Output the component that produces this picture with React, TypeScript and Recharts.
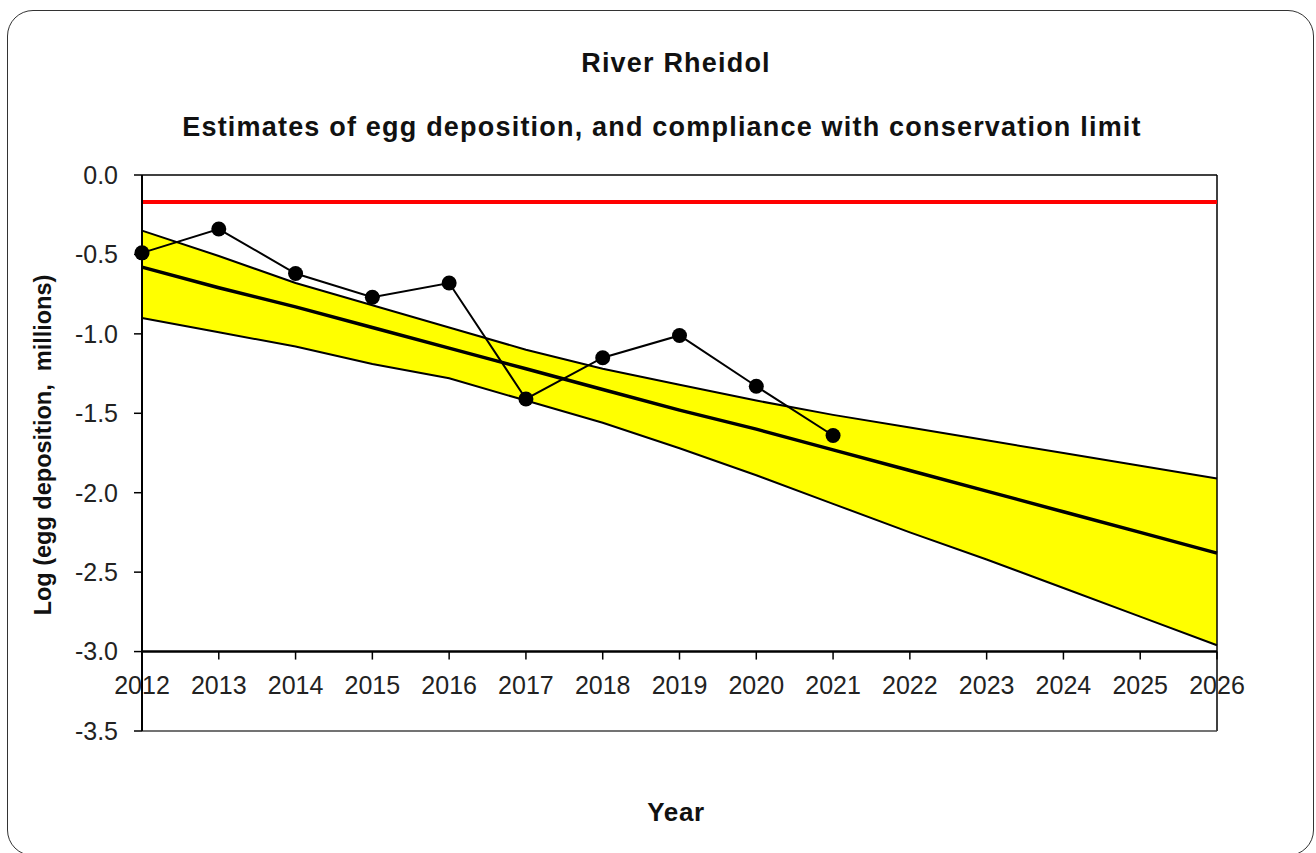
import { ComposedChart, Area, Line, XAxis, YAxis, ReferenceLine } from 'recharts';

const years = [2012, 2013, 2014, 2015, 2016, 2017, 2018, 2019, 2020, 2021, 2022, 2023, 2024, 2025, 2026];
const observed = [-0.49, -0.34, -0.62, -0.77, -0.68, -1.41, -1.15, -1.01, -1.33, -1.64];
const trend = [-0.58, -0.71, -0.83, -0.96, -1.09, -1.22, -1.35, -1.48, -1.6, -1.73, -1.86, -1.99, -2.12, -2.25, -2.38];
const upperCI = [-0.35, -0.51, -0.68, -0.82, -0.96, -1.1, -1.22, -1.32, -1.42, -1.51, -1.59, -1.67, -1.75, -1.83, -1.91];
const lowerCI = [-0.9, -0.99, -1.08, -1.19, -1.28, -1.42, -1.56, -1.72, -1.89, -2.07, -2.25, -2.42, -2.6, -2.78, -2.96];
const yTicks = [0, -0.5, -1, -1.5, -2, -2.5, -3, -3.5];
const conservationLimit = -0.17;
const xAxisAt = -3;

const data = years.map((year, i) => ({
  year,
  observed: observed[i] ?? null,
  trend: trend[i],
  upper: upperCI[i],
  lower: lowerCI[i],
  band: [lowerCI[i], upperCI[i]],
}));

const W = 1316;
const H = 853;
const PLOT_TOP = 175;
const PLOT_BOTTOM = 731;
const PLOT_LEFT = 142;
const PLOT_RIGHT = 1217;
const Y_AXIS_W = 100;
const X_AXIS_H = 30;
const FONT = '"Liberation Sans", Arial, sans-serif';

// year labels sit under the -3.0 line, not at the bottom of the plot box
const AXIS_SHIFT = ((PLOT_BOTTOM - PLOT_TOP) * (xAxisAt - yTicks[yTicks.length - 1])) / (yTicks[0] - yTicks[yTicks.length - 1]);

const YearTick = (props: any) => {
  const { x, y, payload } = props;
  const ty = y - AXIS_SHIFT;
  return (
    <g>
      <line x1={x} x2={x} y1={ty} y2={ty + 8} stroke="#000" strokeWidth={1.5} />
      <text x={x} y={ty + 42} textAnchor="middle" fontSize={25} fontFamily={FONT} fill="#222">
        {payload.value}
      </text>
    </g>
  );
};

const label = (text: string, x: number, y: number, extra: any = {}) => (
  <div
    style={{
      position: 'absolute',
      left: x,
      top: y,
      transform: 'translate(-50%, -50%)',
      fontFamily: FONT,
      fontWeight: 'bold',
      fontSize: 27,
      letterSpacing: '1.2px',
      color: '#111',
      whiteSpace: 'pre',
      ...extra,
    }}
  >
    {text}
  </div>
);

export default function App() {
  return (
    <div style={{ position: 'relative', width: W, height: H, overflow: 'hidden', background: '#fff' }}>
      <style>{`body{margin:0;overflow:hidden}`}</style>
      <div
        style={{
          position: 'absolute',
          left: 7,
          top: 10,
          width: 1307,
          height: 846,
          boxSizing: 'border-box',
          border: '1.5px solid #333',
          borderRadius: 26,
        }}
      />
      <div style={{ position: 'absolute', left: 0, top: 0 }}>
        <ComposedChart
          width={W}
          height={H}
          data={data}
          margin={{
            top: PLOT_TOP,
            right: W - PLOT_RIGHT,
            bottom: H - PLOT_BOTTOM - X_AXIS_H,
            left: PLOT_LEFT - Y_AXIS_W,
          }}
        >
          <XAxis
            dataKey="year"
            type="number"
            domain={[years[0], years[years.length - 1]]}
            ticks={years}
            height={X_AXIS_H}
            tickSize={0}
            tickMargin={0}
            tick={<YearTick />}
            axisLine={{ stroke: '#444', strokeWidth: 1.5 }}
            interval={0}
          />
          <YAxis
            type="number"
            domain={[yTicks[yTicks.length - 1], yTicks[0]]}
            ticks={yTicks}
            width={Y_AXIS_W}
            tickSize={8}
            tickMargin={16}
            tickFormatter={(v: number) => v.toFixed(1)}
            tick={{ fontSize: 25, fontFamily: FONT, fill: '#222' }}
            axisLine={{ stroke: '#000', strokeWidth: 2 }}
            tickLine={{ stroke: '#000', strokeWidth: 1.5 }}
            interval={0}
          />
          <Area
            dataKey="band"
            type="linear"
            fill="#FFFF00"
            fillOpacity={1}
            stroke="none"
            isAnimationActive={false}
            activeDot={false}
          />
          <Line dataKey="upper" type="linear" stroke="#000" strokeWidth={2} dot={false} isAnimationActive={false} />
          <Line dataKey="lower" type="linear" stroke="#000" strokeWidth={2} dot={false} isAnimationActive={false} />
          <Line dataKey="trend" type="linear" stroke="#000" strokeWidth={3.5} dot={false} isAnimationActive={false} />
          <ReferenceLine y={yTicks[0]} stroke="#000" strokeWidth={1.5} />
          <ReferenceLine x={years[years.length - 1]} stroke="#000" strokeWidth={1.5} />
          <ReferenceLine y={xAxisAt} stroke="#000" strokeWidth={2.5} />
          <ReferenceLine y={conservationLimit} stroke="#FF0000" strokeWidth={4} />
          <Line
            dataKey="observed"
            type="linear"
            stroke="#000"
            strokeWidth={2}
            dot={{ r: 7.5, fill: '#000', stroke: '#000', strokeWidth: 0 }}
            isAnimationActive={false}
          />
        </ComposedChart>
      </div>
      {label('River Rheidol', 676, 63)}
      {label('Estimates of egg deposition, and compliance with conservation limit', 662, 127)}
      {label('Year', 676, 812, { fontSize: 26, letterSpacing: '0.6px' })}
      {label('Log (egg deposition,  millions)', 43, 445, {
        transform: 'translate(-50%, -50%) rotate(-90deg)',
        fontSize: 23.5,
        letterSpacing: 'normal',
      })}
    </div>
  );
}
